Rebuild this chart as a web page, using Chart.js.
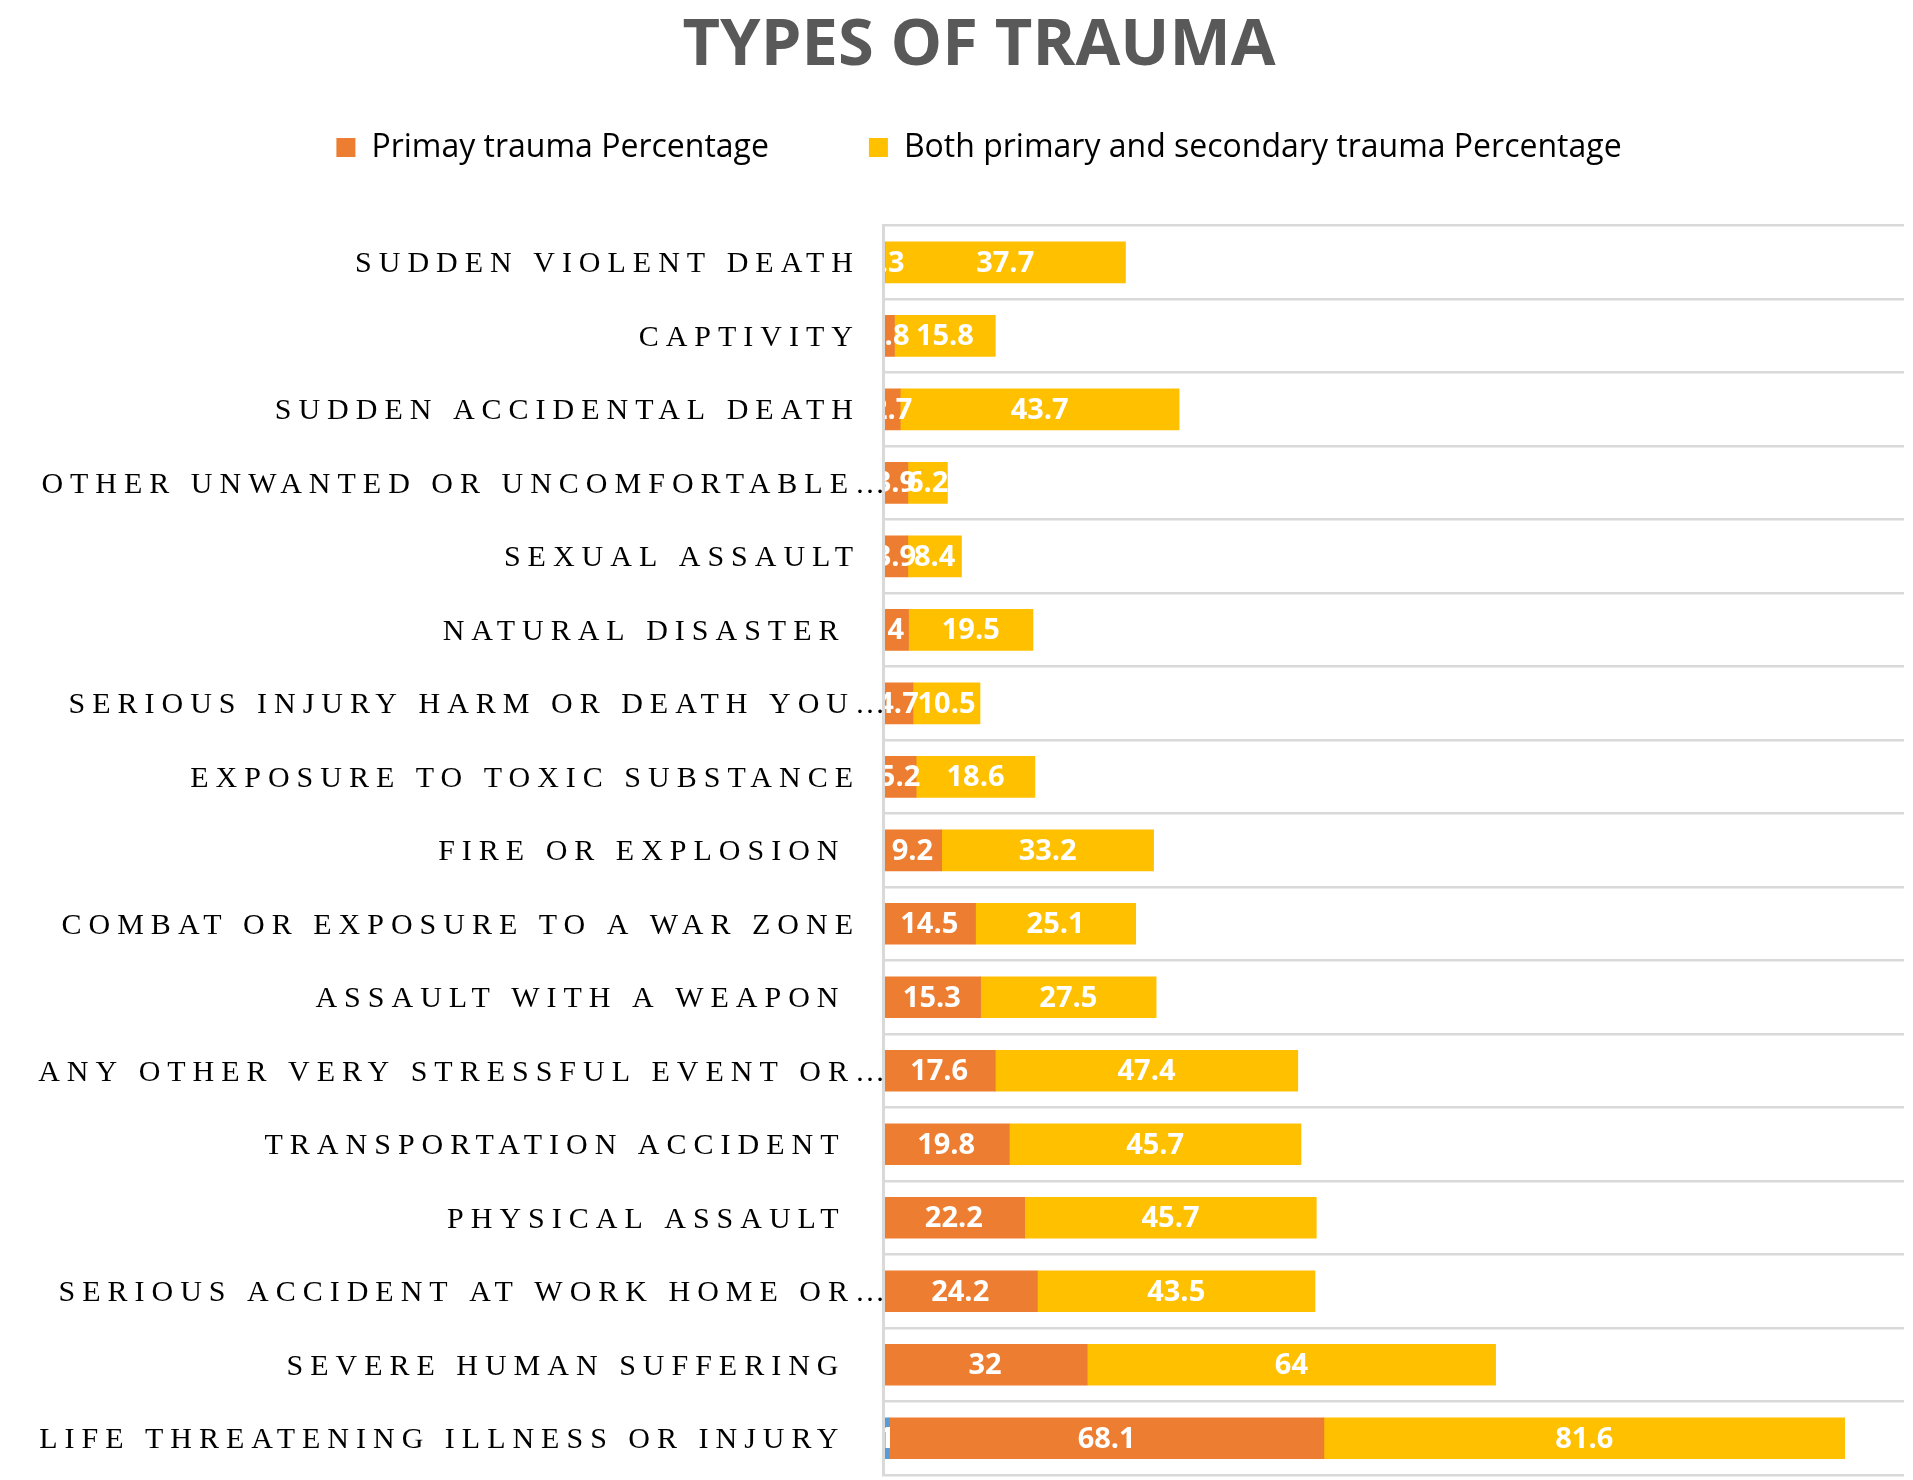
<!DOCTYPE html>
<html>
<head>
<meta charset="utf-8">
<script src="https://cdn.jsdelivr.net/npm/chart.js@4.4.0/dist/chart.umd.min.js"></script>
<style>
  html, body { margin: 0; padding: 0; background: #ffffff; }
  #wrap { width: 1913px; height: 1480px; }
</style>
</head>
<body>
<div id="wrap"><canvas id="c" width="1913" height="1480"></canvas></div>
<script>
const chartTitle = 'TYPES OF TRAUMA';
const categories = [
  'SUDDEN VIOLENT DEATH',
  'CAPTIVITY',
  'SUDDEN ACCIDENTAL DEATH',
  'OTHER UNWANTED OR UNCOMFORTABLE…',
  'SEXUAL ASSAULT',
  'NATURAL DISASTER ',
  'SERIOUS INJURY HARM OR DEATH YOU…',
  'EXPOSURE TO TOXIC SUBSTANCE',
  'FIRE OR EXPLOSION ',
  'COMBAT OR EXPOSURE TO A WAR ZONE',
  'ASSAULT WITH A WEAPON ',
  'ANY OTHER VERY STRESSFUL EVENT OR…',
  'TRANSPORTATION ACCIDENT ',
  'PHYSICAL ASSAULT ',
  'SERIOUS ACCIDENT AT WORK HOME OR…',
  'SEVERE HUMAN SUFFERING ',
  'LIFE THREATENING ILLNESS OR INJURY '
];
const seriesNames = ['Series 1', 'Primay trauma Percentage', 'Both primary and secondary trauma Percentage'];
const series1Values = [null, null, null, null, null, null, null, null, null, null, null, null, null, null, null, null, 1];
const primaryValues = [0.3, 1.8, 2.7, 3.9, 3.9, 4, 4.7, 5.2, 9.2, 14.5, 15.3, 17.6, 19.8, 22.2, 24.2, 32, 68.1];
const bothValues = [37.7, 15.8, 43.7, 6.2, 8.4, 19.5, 10.5, 18.6, 33.2, 25.1, 27.5, 47.4, 45.7, 45.7, 43.5, 64, 81.6];
const xMin = 0;
const xMax = 160;

const colors = ['#5B9BD5', '#ED7D31', '#FFC000'];

// Value labels centred in each bar segment
const valueLabels = {
  id: 'valueLabels',
  afterDatasetsDraw(chart) {
    const { ctx, chartArea } = chart;
    ctx.save();
    ctx.beginPath();
    ctx.rect(chartArea.left, chartArea.top, chartArea.right - chartArea.left, chartArea.bottom - chartArea.top);
    ctx.clip();
    ctx.font = 'bold 29px "Open Sans"';
    ctx.fillStyle = '#ffffff';
    ctx.textAlign = 'center';
    ctx.textBaseline = 'middle';
    chart.data.datasets.forEach((ds, di) => {
      const meta = chart.getDatasetMeta(di);
      if (meta.hidden) return;
      meta.data.forEach((bar, i) => {
        const v = ds.data[i];
        if (v === null || v === undefined) return;
        const cx = (bar.x + bar.base) / 2;
        ctx.fillText(String(v), cx, bar.y + 1);
      });
    });
    ctx.restore();
  }
};

// Letter-spaced category labels (drawn by the y scale itself)
const spacedTicks = {
  id: 'spacedTicks',
  beforeDraw(chart) {
    const s = chart.scales.y;
    if (!s || s._spaced) return;
    const orig = s.drawLabels;
    s._computeLabelArea = function () { return undefined; };
    s.drawLabels = function (area) {
      const items = this.getLabelItems(area);
      if (!items._adj) {
        items.forEach(it => {
          if (String(it.label).endsWith('…')) it.options.translation[0] += 32;
          it.options.translation[1] += 2;
        });
        items._adj = true;
      }
      const ctx = this.ctx;
      const prev = ctx.letterSpacing;
      ctx.letterSpacing = '7px';
      orig.call(this, area);
      ctx.letterSpacing = prev || '0px';
    };
    s._spaced = true;
  }
};

Chart.defaults.font.family = '"Open Sans", sans-serif';

new Chart(document.getElementById('c'), {
  type: 'bar',
  data: {
    labels: categories,
    datasets: [
      { label: seriesNames[0], data: series1Values, backgroundColor: colors[0] },
      { label: seriesNames[1], data: primaryValues, backgroundColor: colors[1] },
      { label: seriesNames[2], data: bothValues, backgroundColor: colors[2] }
    ]
  },
  options: {
    indexAxis: 'y',
    responsive: false,
    animation: false,
    devicePixelRatio: 1,
    layout: { padding: { left: 54, right: 9, top: 0, bottom: 5 } },
    datasets: { bar: { barThickness: 41, borderWidth: 0 } },
    scales: {
      x: {
        position: 'top',
        stacked: true,
        min: xMin,
        max: xMax,
        grid: { display: false },
        border: { display: false },
        ticks: { display: false },
        afterFit(scale) { scale.height = 52; }
      },
      y: {
        stacked: true,
        grid: { color: '#d9d9d9', lineWidth: 2.5, drawTicks: false, offset: true },
        border: { display: true, color: '#d9d9d9', width: 3, z: 1 },
        ticks: {
          color: '#000000',
          padding: 23,
          autoSkip: false,
          font: { family: '"Liberation Serif", "Times New Roman", serif', size: 30 }
        },
        afterFit(scale) {
          scale.width = 829;
          scale.paddingTop = 0;
          scale.paddingBottom = 0;
        }
      }
    },
    plugins: {
      title: {
        display: true,
        text: chartTitle,
        color: '#595959',
        font: { size: 65, weight: 'bold', family: '"Open Sans", sans-serif' },
        padding: { top: 7, bottom: -53.4 }
      },
      legend: {
        display: true,
        position: 'top',
        labels: {
          color: '#000000',
          boxWidth: 19,
          boxHeight: 19,
          padding: 100,
          font: { size: 32, family: '"Open Sans", sans-serif' },
          filter: item => item.datasetIndex > 0
        }
      },
      tooltip: { enabled: false }
    }
  },
  plugins: [valueLabels, spacedTicks]
});
</script>
</body>
</html>
